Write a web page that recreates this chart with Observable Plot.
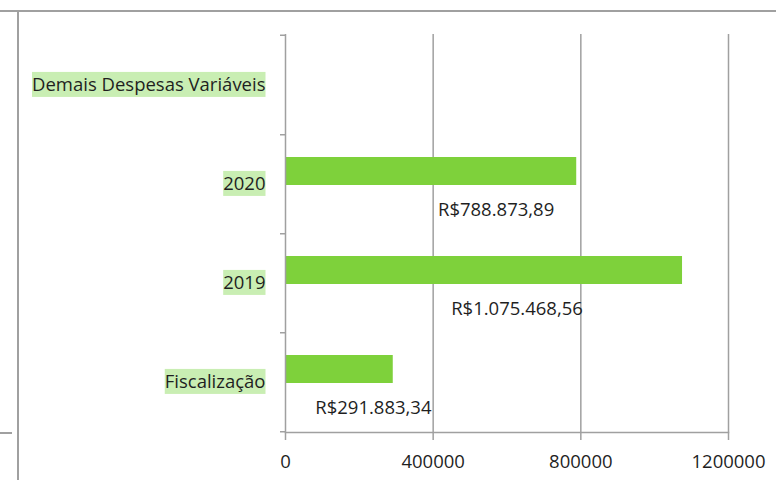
<!DOCTYPE html>
<html>
<head>
<meta charset="utf-8">
<script src="https://cdn.jsdelivr.net/npm/d3@7"></script>
<script src="https://cdn.jsdelivr.net/npm/@observablehq/plot@0.6"></script>
<style>
  html, body { margin: 0; padding: 0; background: #fff; }
  #wrap { position: relative; width: 776px; height: 480px; overflow: hidden; }
  .line { position: absolute; background: #a0a0a0; }
</style>
</head>
<body>
<div id="wrap">
  <div class="line" style="left:0;top:10px;width:776px;height:2px;"></div>
  <div class="line" style="left:17px;top:10px;width:2px;height:470px;"></div>
  <div class="line" style="left:0;top:432px;width:12px;height:1.5px;"></div>
</div>
<script>
const categories = ["Demais Despesas Variáveis", "2020", "2019", "Fiscalização"];
const values = [null, 788873.89, 1075468.56, 291883.34];
const valueLabels = ["", "R$788.873,89", "R$1.075.468,56", "R$291.883,34"];
const xTicks = [0, 400000, 800000, 1200000];

const data = categories.map((c, i) => ({category: c, value: values[i], label: valueLabels[i]}));
const bars = data.filter(d => d.value != null);

const marginTop = 34, marginBottom = 48, height = 480;
const bw = (height - marginTop - marginBottom) / categories.length;
const gray = "#a0a0a0";
// horizontal nudges (px) of the manually-placed data labels, as in the source
const labelNudge = {"2020": 65, "2019": 33, "Fiscalização": 34};

const chart = Plot.plot({
  width: 776,
  height,
  marginLeft: 285,
  marginRight: 48,
  marginTop,
  marginBottom,
  style: {fontFamily: "'Open Sans', sans-serif", fontSize: "18.5px", color: "#1f1f1f", background: "transparent"},
  x: {domain: [0, 1200000]},
  y: {domain: categories, padding: 0},
  marks: [
    Plot.gridX(xTicks.slice(1), {stroke: gray, strokeOpacity: 1, strokeWidth: 1.5}),
    Plot.barX(bars, {x: "value", y: "category", fill: "#7ed13b", insetTop: 23, insetBottom: 48}),
    ...bars.map(b => Plot.text([b], {x: d => d.value / 2, y: "category", text: "label", dy: 26, dx: labelNudge[b.category], fill: "#1f1f1f"})),
    Plot.ruleX([0], {stroke: gray, strokeWidth: 1.5}),
    Plot.frame({anchor: "bottom", stroke: gray, strokeWidth: 1.5}),
    Plot.axisX(xTicks, {tickSize: 8, tickPadding: 14, tickFormat: d => String(d), stroke: gray, strokeWidth: 1.5, fill: "#1f1f1f", label: null}),
    Plot.axisY(categories, {tickSize: 5, text: null, dy: bw / 2, stroke: gray, strokeWidth: 1.5, label: null}),
    Plot.axisY([categories[0]], {tickSize: 5, text: null, dy: -bw / 2, stroke: gray, strokeWidth: 1.5, label: null}),
    Plot.axisY(categories, {tickSize: 0, tickPadding: 20, fill: "#1f1f1f", label: null})
  ]
});

chart.style.position = "absolute";
chart.style.left = "0";
chart.style.top = "0";
document.getElementById("wrap").appendChild(chart);

// light green highlight behind category labels
const ns = "http://www.w3.org/2000/svg";
chart.querySelectorAll('g[aria-label="y-axis tick label"] text').forEach(t => {
  const b = t.getBBox();
  const r = document.createElementNS(ns, "rect");
  r.setAttribute("x", b.x);
  r.setAttribute("y", b.y + 1);
  r.setAttribute("width", b.width);
  r.setAttribute("height", b.height);
  r.setAttribute("fill", "#c9eeb3");
  const tr = t.getAttribute("transform");
  if (tr) r.setAttribute("transform", tr);
  t.parentNode.insertBefore(r, t);
});
</script>
</body>
</html>
